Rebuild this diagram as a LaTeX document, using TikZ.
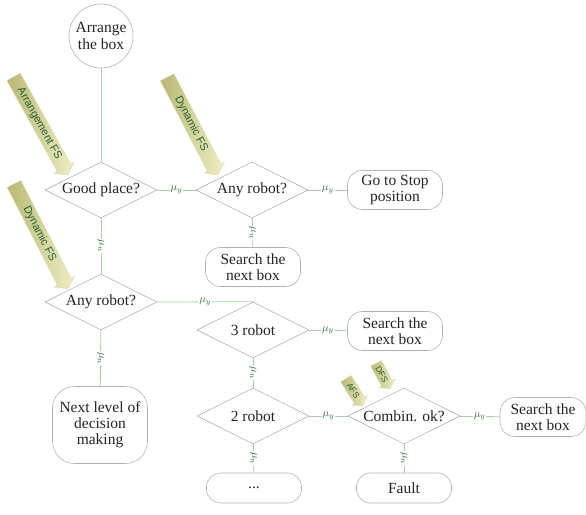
\documentclass[tikz,border=0pt]{standalone}
\usepackage{fontspec}
\setmainfont{Liberation Serif}
\newfontfamily\fsfont{Liberation Sans}
\usetikzlibrary{shapes.geometric,shapes.arrows}
\definecolor{ink}{RGB}{35,35,35}
\definecolor{frame}{RGB}{178,178,178}
\definecolor{wire}{RGB}{170,206,170}
\definecolor{wireb}{RGB}{178,202,210}
\definecolor{mulabel}{RGB}{50,105,65}
\definecolor{fsdark}{RGB}{185,185,115}
\definecolor{fslight}{RGB}{238,238,195}
\definecolor{fstext}{RGB}{35,95,55}

\begin{document}
\begin{tikzpicture}[x=1pt,y=-1pt,
  decision/.style={diamond,draw=frame,line width=0.6pt,aspect=2,inner sep=0pt,
    minimum width=112pt,minimum height=56pt,text=ink,font=\fontsize{15.5}{17}\selectfont},
  endbox/.style={draw=frame,line width=0.6pt,rounded corners=15pt,align=center,
    minimum width=95pt,minimum height=39pt,inner sep=1pt,text=ink,
    font=\fontsize{15.5}{16}\selectfont},
  wirey/.style={draw=wire,line width=0.8pt},
  mu/.style={fill=white,inner sep=1pt,text=mulabel,font=\fontsize{11}{11}\selectfont},
  fsarrow/.style={single arrow,single arrow head extend=4pt,single arrow tip angle=110,
    draw=fsdark!55!white,line width=0.3pt,left color=fsdark,right color=fslight,
    text=fstext,font=\fsfont\fontsize{11}{11}\selectfont,text height=8pt,
    text depth=2pt,inner ysep=2.5pt,anchor=tip},
  fssmall/.style={fsarrow,single arrow head extend=3pt,font=\fsfont\fontsize{8.5}{9}\selectfont,
    text height=6.2pt,text depth=0pt,inner ysep=2.8pt,inner xsep=2pt}]
  \useasboundingbox (0,0) rectangle (586,514);

  % start
  \node[circle,draw=frame,line width=0.6pt,minimum size=64pt,inner sep=0pt,align=center,
    text=ink,font=\fontsize{15.5}{17}\selectfont] (arrange) at (101,36) {Arrange\\the box};

  % decisions
  \node[decision] (good) at (101,190) {Good place?};
  \node[decision] (anyr1) at (252,190) {Any robot?};
  \node[decision] (anyr2) at (101,302) {Any robot?};
  \node[decision] (robot3) at (253,330) {3 robot};
  \node[decision] (robot2) at (253,416) {2 robot};
  \node[decision] (combin) at (404,416) {Combin. ok?};

  % outcomes
  \node[endbox] (gostop) at (395,190) {Go to Stop\\position};
  \node[endbox] (search1) at (253,267) {Search the\\next box};
  \node[endbox] (search2) at (395,331) {Search the\\next box};
  \node[endbox,minimum width=86pt] (search3) at (543,417) {Search the\\next box};
  \node[endbox,minimum height=30pt,rounded corners=14pt] (dots) at (254,488) {...};
  \node[endbox,minimum height=30pt,rounded corners=14pt] (fault) at (404,488) {Fault};
  \node[endbox,minimum height=77pt,rounded corners=22pt] (nextlvl) at (100,425)
    {Next level of\\decision\\making};

  % connectors
  \draw[draw=wireb,line width=0.8pt] (arrange) -- (good);
  \draw[wirey] (good) -- node[mu]{$\mu_y$} (anyr1);
  \draw[wirey] (anyr1) -- node[mu]{$\mu_y$} (gostop);
  \draw[wirey] (anyr1) -- node[mu,rotate=-90]{$\mu_n$} (search1);
  \draw[wirey] (good) -- node[mu,rotate=-90]{$\mu_n$} (anyr2);
  \draw[wirey] (anyr2.east) -- node[mu]{$\mu_y$} (robot3.north);
  \draw[wirey] (anyr2) -- node[mu,rotate=-90]{$\mu_n$} (nextlvl);
  \draw[wirey] (robot3) -- node[mu]{$\mu_y$} (search2);
  \draw[wirey] (robot3) -- node[mu,rotate=-90]{$\mu_n$} (robot2);
  \draw[wirey] (robot2) -- node[mu]{$\mu_y$} (combin);
  \draw[wirey] (robot2) -- node[mu,rotate=-90]{$\mu_n$} (dots);
  \draw[wirey] (combin) -- node[mu]{$\mu_y$} (search3);
  \draw[wirey] (combin) -- node[mu,rotate=-90]{$\mu_n$} (fault);

  % fuzzy system inputs
  \node[fsarrow,rotate=-61,minimum height=112pt] (arrfs) at (68,175) {Arrangement FS};
  \node[fsarrow,rotate=-62.5,minimum height=110pt] (dynfs1) at (218,175) {Dynamic FS};
  \node[fsarrow,rotate=-62.8,minimum height=118pt] (dynfs2) at (68,289) {Dynamic FS};
  \node[fssmall,rotate=-58,minimum height=32pt] (afs) at (363,406) {AFS};
  \node[fssmall,rotate=-61.5,minimum height=29pt] (dfs) at (390,389) {DFS};
\end{tikzpicture}
\end{document}
